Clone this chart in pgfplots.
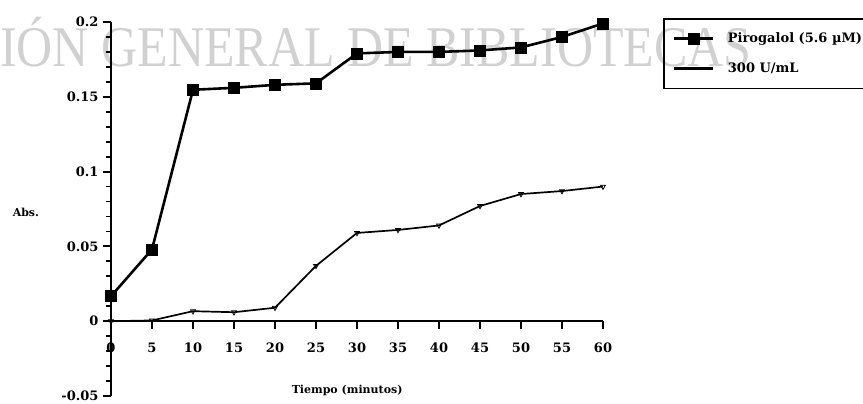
\documentclass[border=0pt]{standalone}
\usepackage{pgfplots}
\pgfplotsset{compat=1.18}
\usepackage{fontspec}
\setmainfont{DejaVu Serif}
\newfontfamily\wmfont{Liberation Serif}
\begin{document}
\begin{tikzpicture}
\useasboundingbox (0pt,0pt) rectangle (863pt,-404pt);
\node[anchor=base west, inner sep=0pt, text=black!18, font=\wmfont\fontsize{50}{50}\selectfont, yscale=1.15, transform shape] at (0pt,-67pt) {IÓN GENERAL DE BIBLIOTECAS};
\begin{axis}[
  at={(111pt,-396pt)}, anchor=south west,
  scale only axis, width=492pt, height=374pt,
  xmin=0, xmax=60, ymin=-0.05, ymax=0.2,
  axis lines=middle,
  axis line style={-, line width=2.2pt},
  hide obscured x ticks=false, hide obscured y ticks=false,
  xtick={0,5,...,60},
  xticklabels={0,5,10,15,20,25,30,35,40,45,50,55,60},
  ytick={-0.05,0,0.05,0.1,0.15,0.2},
  yticklabels={-0.05,0,0.05,0.1,0.15,0.2},
  tick align=outside,
  major tick length=8pt,
  tick style={black, line width=2pt},
  tick label style={font=\bfseries\fontsize{13}{13}\selectfont},
  xticklabel style={yshift=-10pt},
  yticklabel style={xshift=-1pt},
  clip=false,
  legend style={at={(axis description cs:1.122,1.0107)}, anchor=north west,
    draw=black, line width=1.8pt, fill=none,
    font=\bfseries\fontsize{13}{14}\selectfont,
    inner xsep=9pt, inner ysep=12pt, row sep=15pt},
  legend cell align=left,
  legend image code/.code={\draw[mark repeat=2,mark phase=2,#1] plot coordinates {(0pt,0pt) (19.5pt,0pt) (39pt,0pt)}; \path (50pt,0pt);},
]
\addplot[black, line width=2.6pt, mark=square*, mark size=5.5pt, mark options={line width=0.5pt}]
coordinates {(0,0.0167) (5,0.048) (10,0.1547) (15,0.156) (20,0.158) (25,0.159) (30,0.179) (35,0.180) (40,0.180) (45,0.181) (50,0.183) (55,0.190) (60,0.199)};
\addlegendentry{Pirogalol (5.6 µM)}
\addplot[black, line width=1.7pt, mark=triangle, mark size=2.8pt, mark options={rotate=180, line width=0.8pt, fill=white}, forget plot]
coordinates {(0,0) (5,0.0005) (10,0.0067) (15,0.006) (20,0.009) (25,0.037) (30,0.059) (35,0.061) (40,0.064) (45,0.077) (50,0.085) (55,0.087) (60,0.090)};
\addlegendimage{black, line width=3pt}
\addlegendentry{300 U/mL}
\pgfplotsinvokeforeach{0,5,...,60}{\draw[black, line width=2pt] (axis cs:#1,0) -- ++(0pt,-8pt);}
\pgfplotsinvokeforeach{-5,...,20}{\draw[black, line width=1.8pt] (axis cs:0,#1/100) -- ++(-5pt,0pt);}
\pgfplotsinvokeforeach{-5,0,5,10,15,20}{\draw[black, line width=2pt] (axis cs:0,#1/100) -- ++(-8pt,0pt);}
\node[font=\bfseries\fontsize{11}{11}\selectfont] at (axis description cs:-0.173,0.491) {Abs.};
\node[font=\bfseries\fontsize{11}{11}\selectfont] at (axis description cs:0.48,0.016) {Tiempo (minutos)};
\end{axis}
\end{tikzpicture}
\end{document}
